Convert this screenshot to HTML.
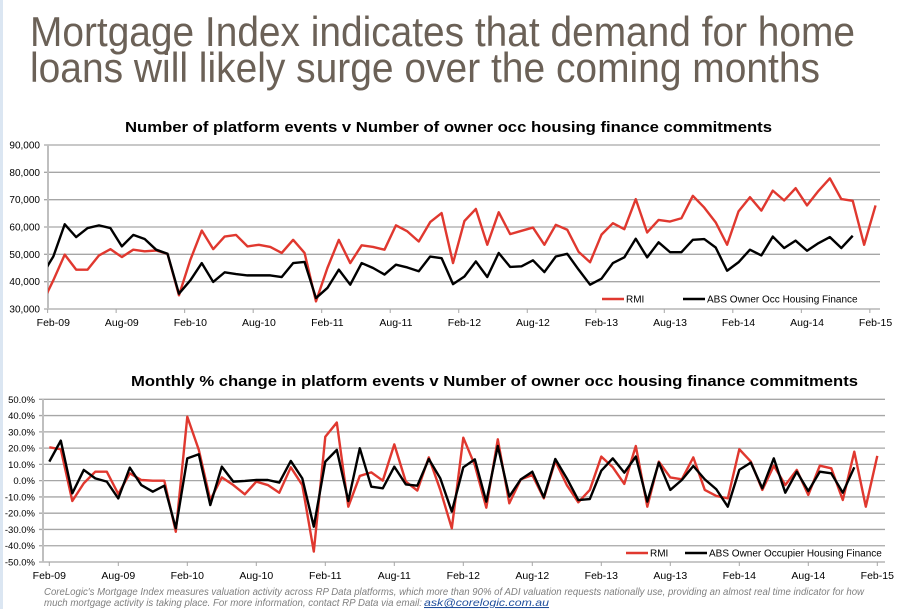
<!DOCTYPE html>
<html><head><meta charset="utf-8"><style>
body{margin:0;background:#fff;width:899px;height:609px;overflow:hidden;font-family:"Liberation Sans",sans-serif}
svg{position:absolute;left:0;top:0}
</style></head><body>
<svg id="s" width="899" height="609" xmlns="http://www.w3.org/2000/svg">
<rect x="0" y="0" width="3" height="609" fill="#dbe6f2"/>
<text x="30" y="46" font-size="42" fill="#6b6157" textLength="825" lengthAdjust="spacingAndGlyphs">Mortgage Index indicates that demand for home</text>
<text x="30" y="82" font-size="42" fill="#6b6157" textLength="790" lengthAdjust="spacingAndGlyphs">loans will likely surge over the coming months</text>
<text x="125" y="132" font-size="15" font-weight="bold" fill="#000" textLength="647" lengthAdjust="spacingAndGlyphs">Number of platform events v Number of owner occ housing finance commitments</text>
<text x="131" y="386" font-size="15" font-weight="bold" fill="#000" textLength="727" lengthAdjust="spacingAndGlyphs">Monthly % change in platform events v Number of owner occ housing finance commitments</text>
<g id="top"></g>
<g id="bot"></g>
<text x="44" y="595" font-size="10.5" font-style="italic" fill="#7f7f7f" textLength="820" lengthAdjust="spacingAndGlyphs">CoreLogic's Mortgage Index measures valuation activity across RP Data platforms, which more than 90% of ADI valuation requests nationally use, providing an almost real time indicator for how</text>
<text x="44" y="606" font-size="10.5" font-style="italic" fill="#7f7f7f" textLength="378" lengthAdjust="spacingAndGlyphs">much mortgage activity is taking place.  For more information, contact RP Data via email:</text>
<text x="424" y="606" font-size="10.5" font-style="italic" fill="#1f4e9c" text-decoration="underline" textLength="125" lengthAdjust="spacingAndGlyphs">ask@corelogic.com.au</text>
</svg>
<script>
// Top chart data (thousands), index 0 = Jan-09
const topRmi=[31.9,40.5,49.9,44.4,44.4,49.6,51.9,49.0,51.7,51.1,51.4,50.2,35,48,58.7,51.9,56.5,57.1,52.9,53.5,52.7,50.5,55.3,50.5,32.8,45,55.3,46.8,53.3,52.7,51.7,60.6,58.4,54.7,61.8,65.1,46.8,62.2,66.6,53.5,65.4,57.4,58.6,59.8,53.5,60.8,59,50.9,47.1,57.2,61.4,59.2,70.2,58,62.6,62,63.2,71.4,67.1,61.7,53.5,65.7,70.9,66,73.3,69.7,74.2,67.9,73.2,77.8,70.2,69.6,53.5,67.9];
const topAbs=[42.4,49.2,61,56.3,59.6,60.6,59.6,52.9,57.1,55.6,51.7,50.2,35.6,40.5,46.8,39.9,43.4,42.8,42.3,42.3,42.3,41.7,46.8,47.2,34,37.7,44.4,38.9,46.8,45,42.6,46.2,45.2,43.8,49.2,48.6,39.1,41.9,47.4,41.7,50.5,45.4,45.6,47.8,43.5,49.2,50.2,44.4,38.9,41.1,46.8,48.9,55.7,48.9,54.4,50.8,50.8,55.3,55.6,52.5,44,47.1,51.7,49.6,56.5,52.3,55,51.3,54.1,56.3,52.3,56.8];
const topTicks=["30,000","40,000","50,000","60,000","70,000","80,000","90,000"];
const topTickVals=[30,40,50,60,70,80,90];
const xLabels=["Feb-09","Aug-09","Feb-10","Aug-10","Feb-11","Aug-11","Feb-12","Aug-12","Feb-13","Aug-13","Feb-14","Aug-14","Feb-15"];
// Bottom chart data (%), index 0 = Feb-09
const botRmi=[20.5,19.3,-12.5,-1.6,5.5,5.5,-8.2,4.5,0.4,0,0,-31.4,39.3,18.9,-11.9,2,-2.7,-8.4,-0.6,-2.7,-7.4,8.2,-2.7,-43.6,27,35.7,-16,2.9,5.1,0,22.3,-0.6,-6.1,14.3,-5.7,-29.3,26.4,9.6,-16.6,25.4,-13.9,0.8,3.5,-10.9,12.1,-2.7,-13.3,-5.7,14.8,8.2,-2,21.3,-16,11.7,2,0.8,14.3,-5.7,-9.4,-10.9,19.3,11.7,-5.7,9.2,-2.7,6.6,-8.8,9.2,7.6,-11.9,17.8,-16,15.2];
const botAbs=[11.7,24.6,-7.8,6.6,1.4,-0.6,-10.9,8,-2.7,-6.8,-3.1,-29.3,13.7,16.2,-15,8.6,-0.6,-0.2,0.4,0.4,-1.2,12.1,1.4,-28.3,11.7,18.9,-12.5,19.9,-3.7,-4.7,8.6,-2.3,-3.1,13.3,1.4,-19,8.2,13.1,-12.9,21.3,-9.8,0.8,5.5,-10.2,13.3,1.4,-11.9,-11.3,6.1,13.7,4.9,14.8,-12.9,11.1,-5.7,0.4,9,0.8,-5.3,-16,6.6,11.1,-4.7,13.7,-7.4,5.5,-6.4,5.5,4.5,-7.4,8.2];
const botTicks=["-50.0%","-40.0%","-30.0%","-20.0%","-10.0%","0.0%","10.0%","20.0%","30.0%","40.0%","50.0%"];
const botTickVals=[-50,-40,-30,-20,-10,0,10,20,30,40,50];

const NS="http://www.w3.org/2000/svg";
function mk(p,t,a){const e=document.createElementNS(NS,t);for(const k in a)e.setAttribute(k,a[k]);p.appendChild(e);return e;}

function chart(g,o){
  const y=v=>o.y0-(v-o.vmin)/(o.vmax-o.vmin)*(o.y0-o.y1);
  const x=i=>o.xs+o.step*i;
  const cp=mk(g,'clipPath',{id:o.id+'clip'});
  mk(cp,'rect',{x:o.left,y:0,width:o.right-o.left,height:609});
  o.tickVals.forEach((v,i)=>{
    const ln=mk(g,'line',{x1:o.left-4,x2:o.right,y1:y(v),y2:y(v),stroke:'#a6a6a6','stroke-width':1.3});
    
    
    const t=mk(g,'text',{x:o.left-8,y:y(v)+3.5,'font-size':o.fs,'text-anchor':'end',fill:'#000'});
    t.textContent=o.ticks[i];
    
    
  });
  const ax=mk(g,'line',{x1:o.left,x2:o.left,y1:o.y1,y2:o.y0,stroke:'#bfbfbf','stroke-width':2});
  
  
  xLabels.forEach((l,i)=>{
    const xi=x(o.firstFeb+6*i);
    const tk=mk(g,'line',{x1:xi+o.tickOff,x2:xi+o.tickOff,y1:o.y0,y2:o.y0+4,stroke:'#a6a6a6'});
    
    
    const t=mk(g,'text',{x:xi,y:o.y0+17,'font-size':10.5,'text-anchor':'middle',fill:'#000'});
    t.textContent=l;
    
    
  });
  [[o.rmi,'#e0382f','rmi-line'],[o.abs,'#000','abs-line']].forEach(([d,c,n])=>{
    const p=mk(g,'polyline',{points:d.map((v,i)=>x(i)+','+y(v)).join(' '),fill:'none',stroke:c,'stroke-width':2.4,'stroke-linejoin':'round','clip-path':'url(#'+o.id+'clip)'});
    
    
  });
  o.legend.forEach(([x1,x2,c,txt,n])=>{
    const l=mk(g,'line',{x1:x1,x2:x2,y1:o.ly,y2:o.ly,stroke:c,'stroke-width':2.4});
    
    
    const t=mk(g,'text',{x:x2+2,y:o.ly+3.5,'font-size':10,fill:'#000'});
    t.textContent=txt;
    
    
  });
}
chart(document.getElementById('top'),{id:'t',rmi:topRmi,abs:topAbs,ticks:topTicks,tickVals:topTickVals,vmin:30,vmax:90,y0:309,y1:145,left:48,right:880,xs:41.9,step:11.42,firstFeb:1,tickOff:-5.7,fs:10,ly:299,
  legend:[[602,624,'#e0382f','RMI','legend-rmi'],[683,705,'#000','ABS Owner Occ Housing Finance','legend-abs']]});
chart(document.getElementById('bot'),{id:'b',rmi:botRmi,abs:botAbs,ticks:botTicks,tickVals:botTickVals,vmin:-50,vmax:50,y0:562,y1:399.3,left:43,right:885,xs:49.3,step:11.5,firstFeb:0,tickOff:0,fs:9.5,ly:553,
  legend:[[626,648,'#e0382f','RMI','legend-rmi'],[685,707,'#000','ABS Owner Occupier Housing Finance','legend-abs']]});
</script>
</body></html>
